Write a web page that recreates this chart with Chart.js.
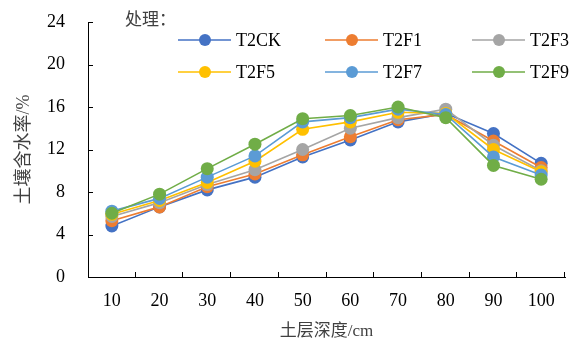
<!DOCTYPE html>
<html>
<head>
<meta charset="utf-8">
<script src="https://cdn.jsdelivr.net/npm/chart.js@4.4.1/dist/chart.umd.min.js"></script>
<style>
  html, body { margin: 0; padding: 0; background: #fff; }
  #box { width: 581px; height: 342px; }
</style>
</head>
<body>
<div id="box"><canvas id="soil"></canvas></div>
<script>
// depth categories and moisture per treatment
var depths = ['10', '20', '30', '40', '50', '60', '70', '80', '90', '100'];
var seriesNames = ['T2CK', 'T2F1', 'T2F3', 'T2F5', 'T2F7', 'T2F9'];
var t2ck = [4.8, 6.6, 8.2, 9.4, 11.3, 12.9, 14.6, 15.4, 13.5, 10.7];
var t2f1 = [5.3, 6.6, 8.5, 9.7, 11.5, 13.2, 14.8, 15.3, 12.8, 10.3];
var t2f3 = [5.7, 7.0, 8.7, 10.1, 12.0, 14.0, 15.0, 15.8, 12.4, 10.0];
var t2f5 = [5.9, 7.2, 8.9, 10.9, 13.9, 14.6, 15.5, 15.4, 12.0, 9.9];
var t2f7 = [6.2, 7.4, 9.4, 11.4, 14.6, 15.0, 15.8, 15.3, 11.3, 9.6];
var t2f9 = [6.0, 7.8, 10.2, 12.5, 14.9, 15.2, 16.0, 15.0, 10.5, 9.2];
var seriesValues = [t2ck, t2f1, t2f3, t2f5, t2f7, t2f9];
var colors = ['#4472C4', '#ED7D31', '#A5A5A5', '#FFC000', '#5B9BD5', '#70AD47'];

var serif = '"Liberation Serif", "Noto Sans CJK SC", serif';

var datasets = seriesNames.map(function(name, i) {
  return {
    label: name,
    data: seriesValues[i],
    borderColor: colors[i],
    backgroundColor: colors[i],
    borderWidth: 1.6,
    pointRadius: 6.5,
    pointHoverRadius: 6.5,
    pointBorderWidth: 0,
    fill: false,
    tension: 0,
    order: seriesNames.length - i   // last series ends up on top
  };
});

// legend in a 3 column grid with a title, plus inward tick marks
var extras = {
  id: 'extras',
  afterDraw: function(chart) {
    var ctx = chart.ctx;
    ctx.save();
    // inside ticks
    var xs = chart.scales.x, ys = chart.scales.y;
    ctx.strokeStyle = '#000';
    ctx.lineWidth = 1;
    ctx.beginPath();
    ys.ticks.forEach(function(t, i) {
      var y = Math.round(ys.getPixelForTick(i)) + 0.5;
      ctx.moveTo(xs.left, y);
      ctx.lineTo(xs.left + 5, y);
    });
    var step = (xs.right - xs.left) / depths.length;
    for (var k = 1; k <= depths.length; k++) {
      var x = Math.round(xs.left + k * step) - 0.5;
      ctx.moveTo(x, ys.bottom);
      ctx.lineTo(x, ys.bottom - 5);
    }
    ctx.stroke();

    // legend
    ctx.font = '17px ' + serif;
    ctx.fillStyle = '#404040';
    ctx.textBaseline = 'middle';
    ctx.textAlign = 'left';
    ctx.fillText('处理：', 125, 21);
    var colX = [178, 325, 472];
    var rowY = [40, 72];
    chart.data.datasets.forEach(function(ds, i) {
      var cx = colX[i % 3], cy = rowY[Math.floor(i / 3)];
      ctx.strokeStyle = ds.borderColor;
      ctx.lineWidth = 1.6;
      ctx.beginPath();
      ctx.moveTo(cx, cy);
      ctx.lineTo(cx + 53, cy);
      ctx.stroke();
      ctx.fillStyle = ds.backgroundColor;
      ctx.beginPath();
      ctx.arc(cx + 27, cy, 6, 0, Math.PI * 2);
      ctx.fill();
      ctx.fillStyle = '#000';
      ctx.font = '18px ' + serif;
      ctx.fillText(ds.label, cx + 58, cy + 1);
    });
    ctx.restore();
  }
};

Chart.defaults.font.family = serif;
Chart.defaults.font.size = 18;
Chart.defaults.color = '#000';

var chart = new Chart('soil', {
  type: 'line',
  data: { labels: depths, datasets: datasets },
  options: {
    responsive: true,
    maintainAspectRatio: false,
    animation: false,
    layout: { padding: { top: 22, right: 16, left: 0, bottom: 0 } },
    scales: {
      x: {
        offset: true,
        grid: { display: true, drawOnChartArea: false, drawTicks: true, tickLength: 12, tickColor: 'rgba(0,0,0,0)', offset: true },
        border: { color: '#000', width: 1 },
        ticks: { padding: 1, color: '#000', font: { size: 18 } },
        title: { display: true, text: '土层深度/cm', color: '#404040', font: { size: 17 }, padding: { top: 0, bottom: 0 } },
        afterFit: function(scale) { scale.height = 65; }
      },
      y: {
        min: 0,
        max: 24,
        ticks: { stepSize: 4, padding: 1, color: '#000', font: { size: 18 } },
        grid: { display: true, drawOnChartArea: false, drawTicks: true, tickLength: 22, tickColor: 'rgba(0,0,0,0)' },
        border: { color: '#000', width: 1 },
        title: { display: true, text: '土壤含水率/%', color: '#404040', font: { size: 18 }, padding: { top: 13, bottom: 0 } },
        afterFit: function(scale) { scale.width = 88; }
      }
    },
    plugins: {
      legend: { display: false },
      tooltip: { enabled: false }
    }
  },
  plugins: [extras]
});
</script>
</body>
</html>
